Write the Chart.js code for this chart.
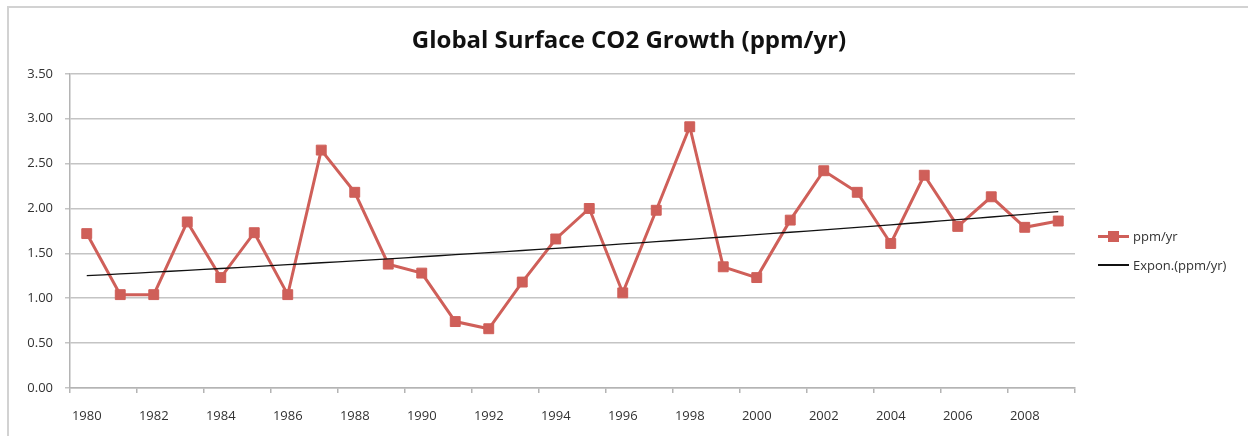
<!DOCTYPE html>
<html>
<head>
<meta charset="utf-8">
<title>Global Surface CO2 Growth</title>
<script src="https://cdn.jsdelivr.net/npm/chart.js@4.4.0/dist/chart.umd.min.js"></script>
<style>
  html, body { margin: 0; padding: 0; overflow: hidden; background: #fff; }
  body { font-family: "Open Sans", sans-serif; }
  #frame { position: absolute; left: 7px; top: 6px; width: 1300px; height: 500px; border: 2px solid #d2d2d2; }
  #wrap { position: absolute; left: 0; top: 0; width: 1248px; height: 436px; }
  .legend_item { position: absolute; left: 1098px; height: 16px; line-height: 16px; font-size: 13px; color: #333; white-space: nowrap; }
  .swatch { position: absolute; left: 0; top: 8px; width: 31px; }
  .swatch_red { height: 3px; margin-top: -1.5px; background: #cf5f59; }
  .swatch_red i { position: absolute; left: 10px; top: -4px; width: 11px; height: 11px; background: #cf5f59; }
  .swatch_black { height: 1.3px; margin-top: -0.6px; background: #111; }
  .legend_item span.label { position: absolute; left: 35px; top: 0; }
</style>
</head>
<body>
<div id="frame"></div>
<div id="wrap"><canvas id="chart_root"></canvas></div>

<div class="legend_item" style="top:228px"><div class="swatch swatch_red"><i></i></div><span class="label">ppm/yr</span></div>
<div class="legend_item" style="top:257px"><div class="swatch swatch_black"></div><span class="label">Expon.(ppm/yr)</span></div>

<script>
// Data
const years = ['1980', '1981', '1982', '1983', '1984', '1985', '1986', '1987', '1988', '1989',
  '1990', '1991', '1992', '1993', '1994', '1995', '1996', '1997', '1998', '1999',
  '2000', '2001', '2002', '2003', '2004', '2005', '2006', '2007', '2008', '2009'];
const growth = [1.72, 1.04, 1.04, 1.85, 1.23, 1.73, 1.04, 2.65, 2.18, 1.38,
  1.28, 0.74, 0.66, 1.18, 1.66, 2.00, 1.06, 1.98, 2.91, 1.35,
  1.23, 1.87, 2.42, 2.18, 1.61, 2.37, 1.80, 2.13, 1.79, 1.86];
const yTicks = [0, 0.5, 1, 1.5, 2, 2.5, 3, 3.5];

// Exponential trendline (least squares on ln y), like the spreadsheet's "Expon." fit
function expFit(values) {
  const n = values.length;
  const logs = values.map((v) => Math.log(v));
  const xMean = (n - 1) / 2;
  const lMean = logs.reduce((a, b) => a + b, 0) / n;
  let num = 0;
  let den = 0;
  logs.forEach((l, i) => {
    num += (i - xMean) * (l - lMean);
    den += (i - xMean) * (i - xMean);
  });
  const b = num / den;
  const a = lMean - b * xMean;
  return values.map((v, i) => Math.exp(a + b * i));
}
const trend = expFit(growth);

const red = '#cf5f59';
const gridGray = '#c4c4c4';
const axisGray = '#b4b4b4';
const tickFont = { family: '"Open Sans", sans-serif', size: 13 };

const ctx = document.getElementById('chart_root');

new Chart(ctx, {
  type: 'line',
  data: {
    labels: years,
    datasets: [
      {
        label: 'ppm/yr',
        data: growth,
        borderColor: red,
        backgroundColor: red,
        borderWidth: 3,
        pointStyle: 'rect',
        pointRadius: 7,
        pointBorderWidth: 1,
        tension: 0,
        order: 1
      },
      {
        label: 'Expon.(ppm/yr)',
        data: trend,
        borderColor: '#111',
        borderWidth: 1.3,
        pointRadius: 0,
        tension: 0.4,
        order: 0
      }
    ]
  },
  options: {
    responsive: true,
    maintainAspectRatio: false,
    animation: false,
    layout: { padding: { left: 10, right: 0, top: 0, bottom: 0 } },
    plugins: {
      legend: { display: false },
      tooltip: { enabled: false },
      title: {
        display: true,
        text: 'Global Surface CO2 Growth (ppm/yr)',
        color: '#111',
        font: { family: '"Open Sans", sans-serif', size: 24, weight: 'bold' },
        padding: { top: 27, bottom: 18 }
      }
    },
    scales: {
      x: {
        offset: true,
        afterFit: (scale) => { scale.height = 48; },
        grid: {
          offset: true,
          drawOnChartArea: false,
          drawTicks: true,
          tickLength: 5,
          lineWidth: 1.5,
          color: (c) => (c.index === undefined || c.index % 2 === 0 ? axisGray : 'rgba(0,0,0,0)')
        },
        border: { display: true, color: axisGray, width: 1.5 },
        ticks: {
          autoSkip: false,
          maxRotation: 0,
          padding: 15,
          color: '#333',
          font: tickFont,
          callback: (val, i) => (i % 2 === 0 ? years[i] : '')
        }
      },
      y: {
        min: 0,
        max: 3.5,
        afterFit: (scale) => { scale.width = 60; },
        afterBuildTicks: (scale) => { scale.ticks = yTicks.map((v) => ({ value: v })); },
        grid: { color: gridGray, lineWidth: 1.5, tickLength: 5 },
        border: { display: true, color: axisGray, width: 1.5 },
        ticks: {
          padding: 12,
          color: '#333',
          font: tickFont,
          callback: (v) => v.toFixed(2)
        }
      },
      // empty right-hand axis that only keeps room for the legend
      legendSpace: {
        type: 'linear',
        position: 'right',
        afterFit: (scale) => { scale.width = 173; },
        grid: { display: false },
        border: { display: false },
        ticks: { display: false }
      }
    }
  }
});
</script>
</body>
</html>
